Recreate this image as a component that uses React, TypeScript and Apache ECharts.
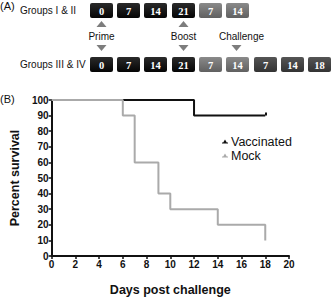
import React, { useEffect, useRef } from "react";
import * as echarts from "echarts";

const row1Days = ["0", "7", "14", "21", "7", "14"];
const row1Kinds = ["k", "k", "k", "k", "g", "g"];
const row2Days = ["0", "7", "14", "21", "7", "14", "7", "14", "18"];
const row2Kinds = ["k", "k", "k", "k", "g", "g", "d", "d", "d"];
const events = [
  { label: "Prime", box: 0, up: true, down: true },
  { label: "Boost", box: 3, up: true, down: true },
  { label: "Challenge", box: 5, up: false, down: true },
];

const vaccinated: [number, number][] = [
  [0, 100],
  [12, 90],
  [18, 90],
];
const mock: [number, number][] = [
  [0, 100],
  [6, 90],
  [7, 60],
  [9, 40],
  [10, 30],
  [14, 20],
  [18, 10],
];

const SANS = "'Liberation Sans', Arial, sans-serif";
const SERIF = "'Liberation Serif', 'Times New Roman', serif";

const boxX = [90, 117, 144, 172, 199, 226, 254, 281, 308];
const BOX_W = 23;

function boxFill(kind: string) {
  const c =
    kind === "k"
      ? ["#2a2a2a", "#050505"]
      : kind === "g"
      ? ["#8a8a8a", "#606060"]
      : ["#555555", "#333333"];
  return new echarts.graphic.LinearGradient(0, 0, 0, 1, [
    { offset: 0, color: c[0] },
    { offset: 1, color: c[1] },
  ]);
}

function boxes(days: string[], kinds: string[], y: number) {
  const out: any[] = [];
  days.forEach((d, i) => {
    out.push({
      type: "rect",
      shape: { x: boxX[i], y, width: BOX_W, height: 15, r: 2 },
      style: { fill: boxFill(kinds[i]) },
    });
    out.push({
      type: "text",
      x: boxX[i] + BOX_W / 2,
      y: y + 8,
      style: {
        text: d,
        fill: "#fff",
        fontFamily: SERIF,
        fontSize: 10.5,
        fontWeight: "bold",
        align: "center",
        verticalAlign: "middle",
      },
    });
  });
  return out;
}

function triangles() {
  const out: any[] = [];
  events.forEach((e) => {
    const cx = boxX[e.box] + BOX_W / 2 + (e.label === "Challenge" ? -1 : 0);
    if (e.up) {
      out.push({
        type: "polygon",
        shape: { points: [[cx - 5, 27], [cx + 5, 27], [cx, 21]] },
        style: { fill: "#7d7d7d" },
      });
    }
    if (e.down) {
      out.push({
        type: "polygon",
        shape: { points: [[cx - 5, 45], [cx + 5, 45], [cx, 51]] },
        style: { fill: "#7d7d7d" },
      });
    }
    out.push({
      type: "text",
      x: cx + (e.label === "Challenge" ? 5 : 0),
      y: 36,
      style: {
        text: e.label,
        fill: "#111",
        fontFamily: SANS,
        fontSize: 10,
        align: "center",
        verticalAlign: "middle",
      },
    });
  });
  return out;
}

export default function App() {
  const ref = useRef<HTMLDivElement>(null);
  useEffect(() => {
    if (!ref.current) return;
    const chart = echarts.init(ref.current, null, { renderer: "svg" });
    const legendIcon = "path://M0,8 L10,8 L10,10 L0,10 Z M2,8 L5,3 L8,8 Z";
    chart.setOption({
      animation: false,
      backgroundColor: "#fff",
      grid: { left: 39, right: 44, top: 100, bottom: 35 },
      legend: {
        left: 222,
        top: 135,
        orient: "vertical",
        itemWidth: 6,
        itemHeight: 6,
        itemGap: 1,
        padding: 0,
        textStyle: { fontFamily: SANS, fontSize: 12.5, color: "#111", padding: [0, 0, 0, -2] },
        data: [
          { name: "Vaccinated", icon: legendIcon, itemStyle: { color: "#111" } },
          { name: "Mock", icon: legendIcon, itemStyle: { color: "#aaa" } },
        ],
      },
      xAxis: {
        type: "value",
        min: 0,
        max: 20,
        interval: 2,
        name: "Days post challenge",
        nameLocation: "middle",
        nameGap: 27,
        nameTextStyle: { fontFamily: SANS, fontSize: 12.5, fontWeight: "bold", color: "#111" },
        axisLine: { lineStyle: { color: "#111", width: 2 } },
        axisTick: { length: 3, lineStyle: { color: "#111", width: 1.5 } },
        axisLabel: { fontFamily: SANS, fontSize: 10, fontWeight: "bold", color: "#111", margin: 3 },
        splitLine: { show: false },
      },
      yAxis: {
        type: "value",
        min: 0,
        max: 100,
        interval: 10,
        name: "Percent survival",
        nameLocation: "middle",
        nameGap: 30,
        nameTextStyle: { fontFamily: SANS, fontSize: 12.5, fontWeight: "bold", color: "#111" },
        axisLine: { show: true, lineStyle: { color: "#111", width: 2 } },
        axisTick: { show: true, length: 3, lineStyle: { color: "#111", width: 1.5 } },
        axisLabel: { fontFamily: SANS, fontSize: 10, fontWeight: "bold", color: "#111", margin: 3 },
        splitLine: { show: false },
      },
      series: [
        {
          name: "Vaccinated",
          type: "line",
          step: "end",
          data: vaccinated,
          symbol: "none",
          lineStyle: { color: "#111", width: 2 },
          itemStyle: { color: "#111" },
          markLine: {
            silent: true,
            symbol: "none",
            label: { show: false },
            lineStyle: { color: "#111", width: 2, type: "solid" },
            data: [[{ coord: [18, 90] }, { coord: [18, 92] }]],
          },
        },
        {
          name: "Mock",
          type: "line",
          step: "end",
          data: mock,
          symbol: "none",
          lineStyle: { color: "#aaa", width: 2 },
          itemStyle: { color: "#aaa" },
        },
      ],
      graphic: [
        {
          type: "text",
          x: 0,
          y: 0,
          style: { text: "(A)", fill: "#111", fontFamily: SANS, fontSize: 11 },
        },
        {
          type: "text",
          x: 20,
          y: 10,
          style: {
            text: "Groups I & II",
            fill: "#111",
            fontFamily: SANS,
            fontSize: 10,
            verticalAlign: "middle",
          },
        },
        {
          type: "text",
          x: 20,
          y: 64,
          style: {
            text: "Groups III & IV",
            fill: "#111",
            fontFamily: SANS,
            fontSize: 10,
            verticalAlign: "middle",
          },
        },
        {
          type: "text",
          x: 0,
          y: 93,
          style: { text: "(B)", fill: "#111", fontFamily: SANS, fontSize: 11 },
        },
        ...boxes(row1Days, row1Kinds, 3),
        ...boxes(row2Days, row2Kinds, 57),
        ...triangles(),
      ],
    });
    return () => chart.dispose();
  }, []);
  return (
    <div
      ref={ref}
      style={{ position: "absolute", left: 0, top: 0, width: 333, height: 301 }}
    />
  );
}
